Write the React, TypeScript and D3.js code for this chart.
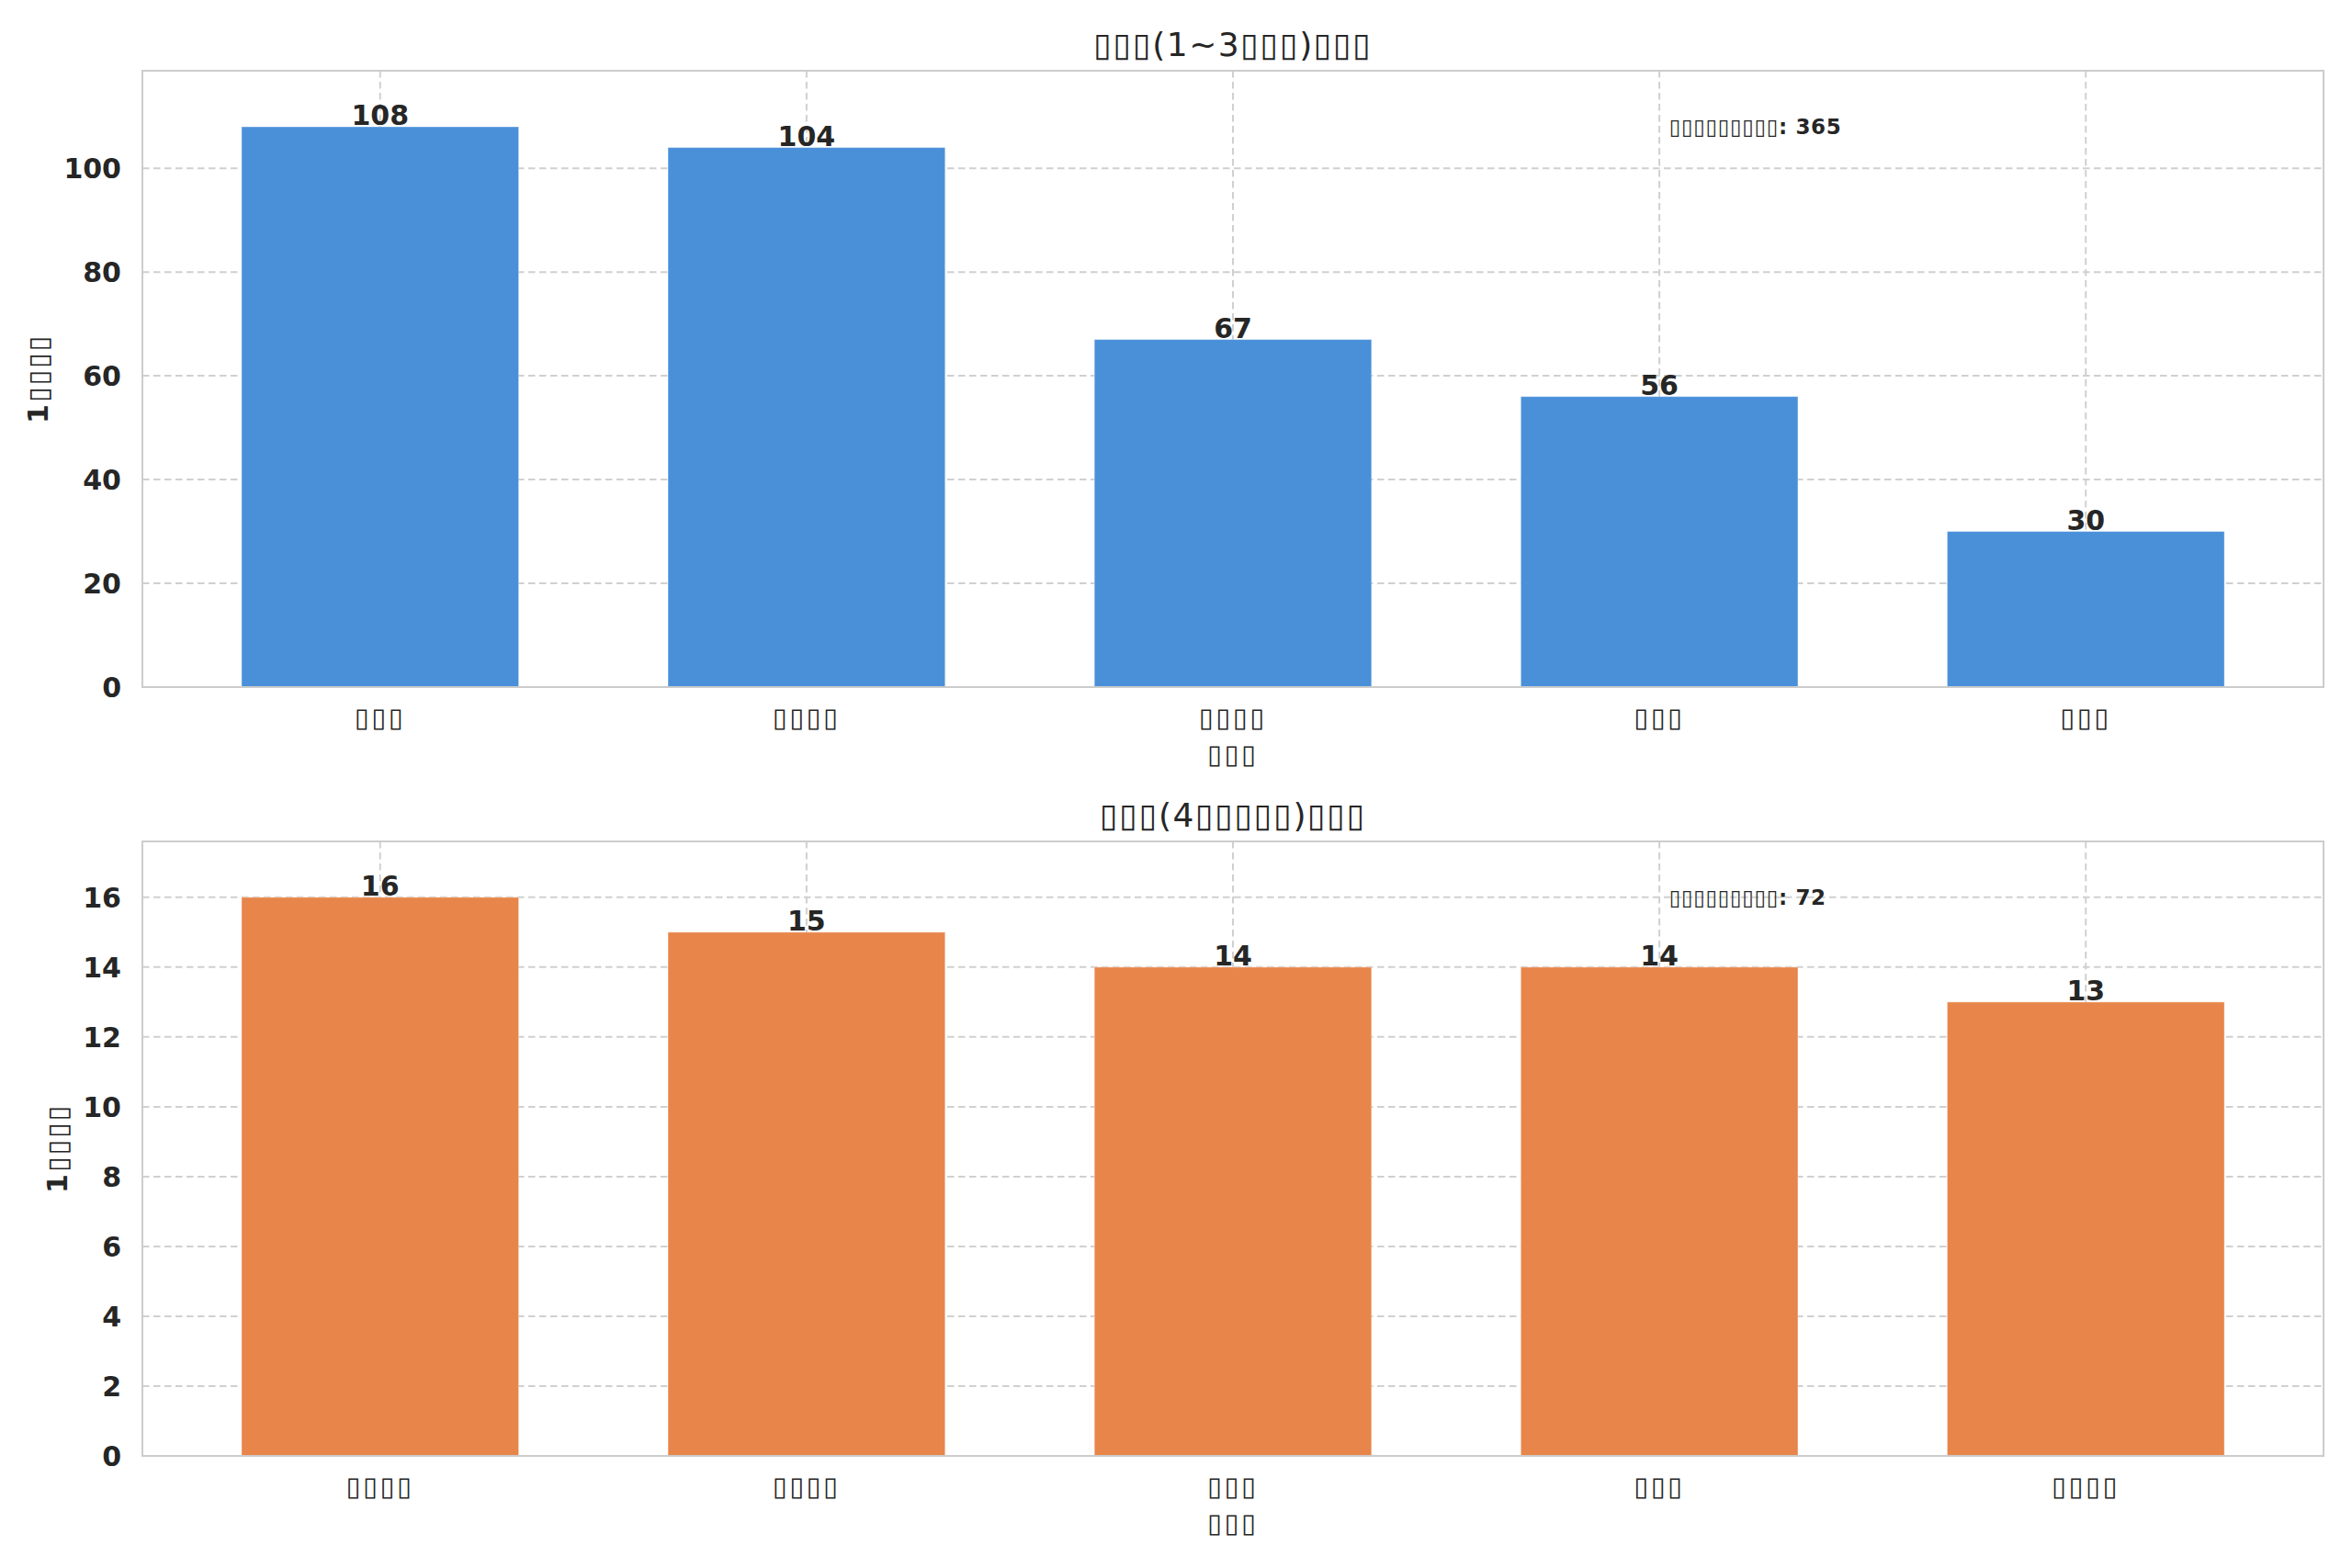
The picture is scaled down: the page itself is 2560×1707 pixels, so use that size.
import React, { useEffect, useRef } from "react";
import * as d3 from "d3";

// --- Data (labels rendered as missing-glyph boxes in the reference)
const topCategories = ["▯▯▯", "▯▯▯▯", "▯▯▯▯", "▯▯▯", "▯▯▯"];
const topValues = [108, 104, 67, 56, 30];
const bottomCategories = ["▯▯▯▯", "▯▯▯▯", "▯▯▯", "▯▯▯", "▯▯▯▯"];
const bottomValues = [16, 15, 14, 14, 13];
const topTicks = [0, 20, 40, 60, 80, 100];
const bottomTicks = [0, 2, 4, 6, 8, 10, 12, 14, 16];
const titles = ["▯▯▯(1~3▯▯▯)▯▯▯", "▯▯▯(4▯▯▯▯▯)▯▯▯"];
const yLabel = "1▯▯▯▯";
const xLabel = "▯▯▯";
const totalLabel = "▯▯▯▯▯▯▯▯▯";

const W = 2560;
const H = 1707;
const FONT = "DejaVu Sans";
const TEXT = "#262626";

interface PanelSpec {
  categories: string[];
  values: number[];
  ticks: number[];
  color: string;
  title: string;
  top: number;
  bottom: number;
}

const App: React.FC = () => {
  const ref = useRef<SVGSVGElement | null>(null);

  useEffect(() => {
    if (!ref.current) return;
    document.body.style.margin = "0";

    const svg = d3.select(ref.current).attr("width", W).attr("height", H);
    svg.selectAll("*").remove();
    svg.append("rect").attr("width", W).attr("height", H).attr("fill", "white");

    const left = 155;
    const right = 2529;

    const panels: PanelSpec[] = [
      { categories: topCategories, values: topValues, ticks: topTicks, color: "#4A90D9", title: titles[0], top: 77, bottom: 748 },
      { categories: bottomCategories, values: bottomValues, ticks: bottomTicks, color: "#E8854A", title: titles[1], top: 916, bottom: 1585 },
    ];

    panels.forEach((p) => {
      const g = svg.append("g");
      const max = d3.max(p.values)!;
      const total = d3.sum(p.values);
      const barW = 0.65;
      const n = p.categories.length;
      const pad = barW / 2 + (n - 1 + barW) * 0.05;

      const x = d3.scaleLinear().domain([-pad, n - 1 + pad]).range([left, right]);
      const y = d3.scaleLinear().domain([0, max * 1.1]).range([p.bottom, p.top]);

      // Grid
      g.selectAll(".hgrid")
        .data(p.ticks)
        .join("line")
        .attr("x1", left)
        .attr("x2", right)
        .attr("y1", (d) => y(d))
        .attr("y2", (d) => y(d))
        .attr("stroke", "#d0d0d0")
        .attr("stroke-width", 2)
        .attr("stroke-dasharray", "7.5,4.5");
      g.selectAll(".vgrid")
        .data(d3.range(n))
        .join("line")
        .attr("x1", (d) => x(d))
        .attr("x2", (d) => x(d))
        .attr("y1", p.top)
        .attr("y2", p.bottom)
        .attr("stroke", "#d0d0d0")
        .attr("stroke-width", 2)
        .attr("stroke-dasharray", "7.5,4.5");

      // Bars
      g.selectAll(".bar")
        .data(p.values)
        .join("rect")
        .attr("x", (_, i) => x(i - barW / 2))
        .attr("width", x(barW) - x(0))
        .attr("y", (d) => y(d))
        .attr("height", (d) => y(0) - y(d))
        .attr("fill", p.color)
        .attr("stroke", "white")
        .attr("stroke-opacity", 0.4)
        .attr("stroke-width", 1);

      // Value labels
      g.selectAll(".val")
        .data(p.values)
        .join("text")
        .attr("x", (_, i) => x(i))
        .attr("y", (d) => y(d) - 2)
        .attr("text-anchor", "middle")
        .style("font-family", FONT)
        .style("font-size", "30px")
        .style("font-weight", "bold")
        .style("fill", TEXT)
        .text((d) => d);

      // Spines
      g.append("rect")
        .attr("x", left)
        .attr("y", p.top)
        .attr("width", right - left)
        .attr("height", p.bottom - p.top)
        .attr("fill", "none")
        .attr("stroke", "#cccccc")
        .attr("stroke-width", 2);

      // Y ticks
      const yt = g
        .selectAll(".ytick")
        .data(p.ticks)
        .join("text")
        .attr("x", left - 23)
        .attr("y", (d) => y(d))
        .attr("dy", "0.36em")
        .attr("text-anchor", "end")
        .style("font-family", FONT)
        .style("font-size", "30px")
        .style("font-weight", "bold")
        .style("fill", TEXT)
        .text((d) => d);

      let tickLeft = left - 23;
      yt.each(function () {
        const b = (this as SVGTextElement).getBBox();
        tickLeft = Math.min(tickLeft, b.x);
      });

      // X ticks
      g.selectAll(".xtick")
        .data(p.categories)
        .join("text")
        .attr("x", (_, i) => x(i))
        .attr("y", p.bottom + 43)
        .attr("text-anchor", "middle")
        .style("font-family", FONT)
        .style("font-size", "29px")
        .style("letter-spacing", "2.5px")
        .style("fill", TEXT)
        .text((d) => d);

      // Axis labels
      g.append("text")
        .attr("x", (left + right) / 2)
        .attr("y", p.bottom + 83)
        .attr("text-anchor", "middle")
        .style("font-family", FONT)
        .style("font-size", "29px")
        .style("letter-spacing", "2.5px")
        .style("font-weight", "bold")
        .style("fill", TEXT)
        .text(xLabel);

      const ylx = tickLeft - 17;
      const yly = (p.top + p.bottom) / 2;
      g.append("text")
        .attr("transform", `translate(${ylx},${yly}) rotate(-90)`)
        .attr("text-anchor", "middle")
        .style("font-family", FONT)
        .style("font-size", "30px")
        .style("letter-spacing", "2px")
        .style("font-weight", "bold")
        .style("fill", TEXT)
        .text(yLabel);

      // Title
      g.append("text")
        .attr("x", (left + right) / 2)
        .attr("y", p.top - 16)
        .attr("text-anchor", "middle")
        .style("font-family", FONT)
        .style("font-size", "36px")
        .style("letter-spacing", "1.5px")
        .style("fill", TEXT)
        .text(p.title);

      // Total annotation
      g.append("text")
        .attr("x", left + 0.7 * (right - left))
        .attr("y", y(max))
        .attr("dy", "0.36em")
        .style("font-family", FONT)
        .style("font-size", "23px")
        .style("letter-spacing", "0.6px")
        .style("font-weight", "bold")
        .style("fill", TEXT)
        .text(`${totalLabel}: ${total}`);
    });
  }, []);

  return <svg ref={ref}></svg>;
};

export default App;
